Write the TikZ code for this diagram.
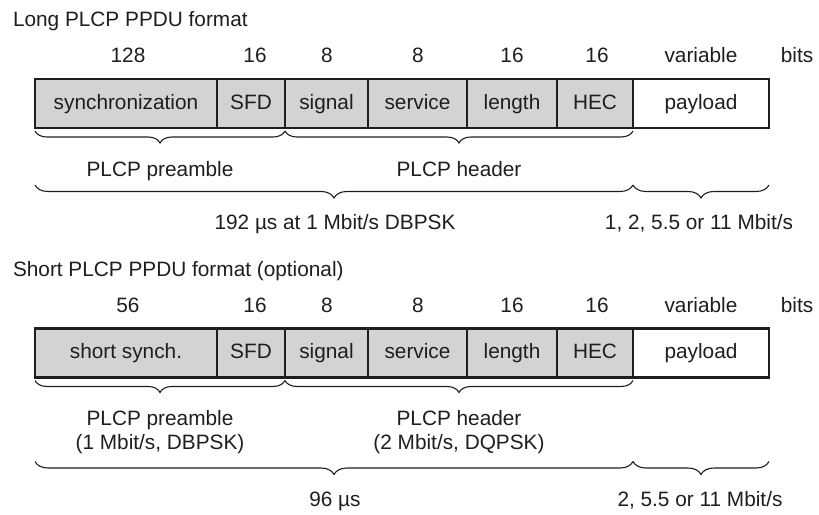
\documentclass[tikz,border=0pt]{standalone}
\usepackage{fontspec}
\setmainfont{Liberation Sans}
\usetikzlibrary{decorations.pathreplacing,calc}
\definecolor{fieldgray}{RGB}{211,211,211}
\definecolor{ink}{RGB}{30,30,30}
\begin{document}
\begin{tikzpicture}[x=1pt,y=-1pt,
  every node/.style={font=\fontsize{20.8}{24}\selectfont, text=ink, inner sep=0pt, outer sep=0pt},
  lbl/.style={text height=15pt, text depth=4pt, anchor=center},
  ttl/.style={text height=15pt, text depth=4pt, anchor=west},
  field/.style={draw=ink, line width=2.2pt, fill=fieldgray, minimum height=49pt, text height=15pt, text depth=4pt},
  pay/.style={field, fill=white},
  brc/.style={draw=ink, line width=1.1pt, decorate, decoration={brace, mirror, amplitude=#1}},
  brc/.default=12pt
]
\useasboundingbox (0,0) rectangle (819,514);

% ---------- Long format ----------
\node[ttl] (t1) at (13,21) {Long PLCP PPDU format};
\node[lbl] (n1a) at (128,56.5) {128};
\node[lbl] (n1b) at (255,56.5) {16};
\node[lbl] (n1c) at (327,56.5) {8};
\node[lbl] (n1d) at (418,56.5) {8};
\node[lbl] (n1e) at (512,56.5) {16};
\node[lbl] (n1f) at (597,56.5) {16};
\node[lbl] (n1g) at (701,56.5) {variable};
\node[lbl] (n1h) at (797,56.5) {bits};

\node[field, minimum width=182pt] (sync1) at (126,103.5) {synchronization};
\node[field, minimum width=68pt]  (sfd1)  at (251,103.5) {SFD};
\node[field, minimum width=83pt]  (sig1)  at (326.5,103.5) {signal};
\node[field, minimum width=99pt]  (ser1)  at (417.5,103.5) {service};
\node[field, minimum width=90pt]  (len1)  at (512,103.5) {length};
\node[field, minimum width=76pt]  (hec1)  at (595,103.5) {HEC};
\node[pay,   minimum width=136pt] (pay1)  at (701,103.5) {payload};

\draw[brc] ($(sync1.south west)+(0,3)$) -- ($(sfd1.south east)+(0,3)$);
\draw[brc] ($(sig1.south west)+(0,3)$) -- ($(hec1.south east)+(0,3)$);
\node[lbl] (pre1) at (160,171) {PLCP preamble};
\node[lbl] (hdr1) at (459,171) {PLCP header};

\draw[brc=13pt] ($(sync1.south west)+(0,57)$) -- ($(hec1.south east)+(0,57)$);
\draw[brc=13pt] ($(pay1.south west)+(0,57)$) -- ($(pay1.south east)+(0,57)$);
\node[lbl] (tm1) at (335,224) {192 µs at 1 Mbit/s DBPSK};
\node[lbl] (rt1) at (699,224) {1, 2, 5.5 or 11 Mbit/s};

% ---------- Short format ----------
\node[ttl] (t2) at (13,271) {Short PLCP PPDU format (optional)};
\node[lbl] (n2a) at (128,306.5) {56};
\node[lbl] (n2b) at (255,306.5) {16};
\node[lbl] (n2c) at (327,306.5) {8};
\node[lbl] (n2d) at (418,306.5) {8};
\node[lbl] (n2e) at (512,306.5) {16};
\node[lbl] (n2f) at (597,306.5) {16};
\node[lbl] (n2g) at (701,306.5) {variable};
\node[lbl] (n2h) at (797,306.5) {bits};

\node[field, minimum width=182pt] (sync2) at (126,353) {short synch.};
\node[field, minimum width=68pt]  (sfd2)  at (251,353) {SFD};
\node[field, minimum width=83pt]  (sig2)  at (326.5,353) {signal};
\node[field, minimum width=99pt]  (ser2)  at (417.5,353) {service};
\node[field, minimum width=90pt]  (len2)  at (512,353) {length};
\node[field, minimum width=76pt]  (hec2)  at (595,353) {HEC};
\node[pay,   minimum width=136pt] (pay2)  at (701,353) {payload};

\draw[brc] ($(sync2.south west)+(0,3)$) -- ($(sfd2.south east)+(0,3)$);
\draw[brc] ($(sig2.south west)+(0,3)$) -- ($(hec2.south east)+(0,3)$);
\node[lbl] (pre2a) at (160,420) {PLCP preamble};
\node[lbl] (pre2b) at (160,444) {(1 Mbit/s, DBPSK)};
\node[lbl] (hdr2a) at (459,420) {PLCP header};
\node[lbl] (hdr2b) at (459,444) {(2 Mbit/s, DQPSK)};

\draw[brc=13pt] ($(sync2.south west)+(0,84)$) -- ($(hec2.south east)+(0,84)$);
\draw[brc=13pt] ($(pay2.south west)+(0,84)$) -- ($(pay2.south east)+(0,84)$);
\node[lbl] (tm2) at (335,501) {96 µs};
\node[lbl] (rt2) at (700,501) {2, 5.5 or 11 Mbit/s};
\end{tikzpicture}
\end{document}
